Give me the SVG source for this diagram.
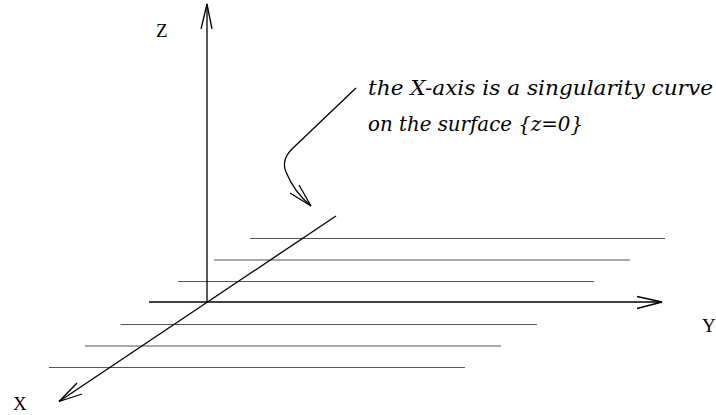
<svg xmlns="http://www.w3.org/2000/svg" width="716" height="415" viewBox="0 0 716 415">
<style>
.ax{stroke:#000;stroke-width:1.3;fill:none}
.pl{stroke:#555;stroke-width:1.1;fill:none}
.lbl{font-family:"Liberation Serif",serif;font-size:19px;fill:#000}
.note{font-family:"DejaVu Serif",serif;font-style:italic;font-size:19.5px;fill:#000}
</style>
<rect width="716" height="415" fill="#fff"/>
<g id="planes">
<line class="pl" x1="250" y1="238.5" x2="665" y2="238.5"/>
<line class="pl" x1="214" y1="260" x2="630" y2="260"/>
<line class="pl" x1="178" y1="281.5" x2="594" y2="281.5"/>
<line class="pl" x1="120.5" y1="324.5" x2="537" y2="324.5"/>
<line class="pl" x1="85" y1="346" x2="501" y2="346"/>
<line class="pl" x1="49" y1="367.5" x2="465" y2="367.5"/>
</g>
<g id="axes">
<g id="z-axis">
<line class="ax" x1="207" y1="302" x2="207" y2="4"/>
<polyline class="ax" points="201,29 207,4 212,29"/>
<text class="lbl" x="156" y="37">Z</text>
</g>
<g id="y-axis">
<line class="ax" x1="149" y1="302" x2="662" y2="302"/>
<polyline class="ax" points="637,296.5 662,302 637,308.5"/>
<text class="lbl" x="702" y="332">Y</text>
</g>
<g id="x-axis">
<line class="ax" x1="336" y1="216" x2="59" y2="401.5"/>
<polyline class="ax" points="77,383 59,401.5 82,394"/>
<text class="lbl" x="13" y="410">X</text>
</g>
</g>
<g id="note">
<text class="note" x="368" y="95" textLength="345" lengthAdjust="spacingAndGlyphs">the X-axis is a singularity curve</text>
<text class="note" x="368" y="131" textLength="215" lengthAdjust="spacingAndGlyphs">on the surface {z=0}</text>
</g>
<g id="connectors">
<path class="ax" d="M356,88 L292,149 Q281,160 286,172 Q294,192 311,206"/>
<polyline class="ax" points="290,193 311,206 299,185"/>
</g>
</svg>
